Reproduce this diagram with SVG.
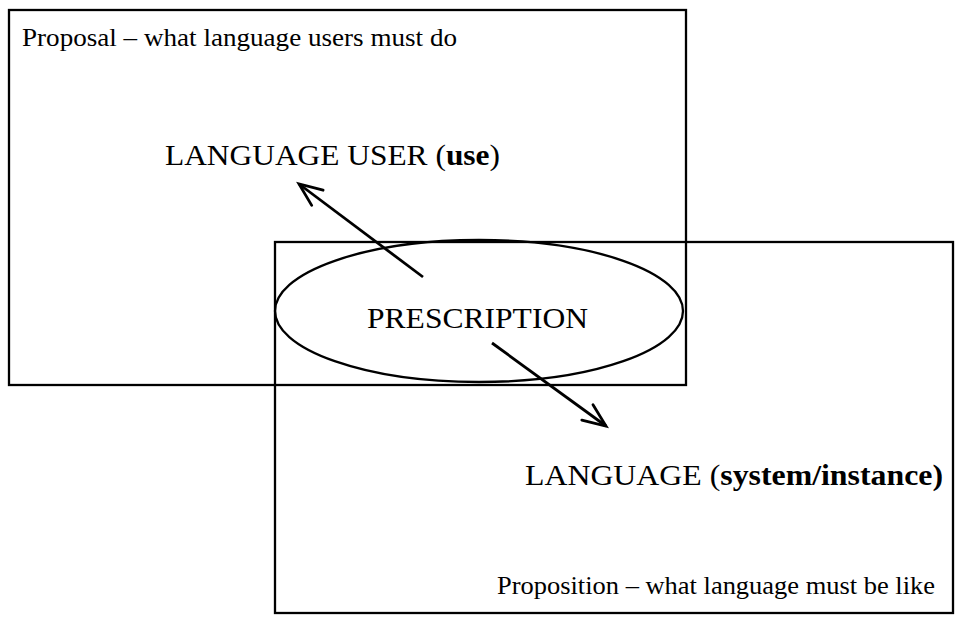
<svg xmlns="http://www.w3.org/2000/svg" width="958" height="621" viewBox="0 0 958 621">
<style>
.box{fill:none;stroke:#000;stroke-width:2.3}
.t{font-family:"Liberation Serif","Times New Roman",serif;fill:#000}
.s{font-size:26px}
.l{font-size:30px}
.b{font-weight:bold}
.arr{stroke:#000;stroke-width:2.8;fill:none;marker-end:url(#ah)}
</style>
<defs>
<marker id="ah" markerWidth="30" markerHeight="30" viewBox="-26 -15 30 30" refX="0" refY="0" orient="auto" markerUnits="userSpaceOnUse">
<path d="M-23,-9.5 L0,0 L-23,9.5" fill="none" stroke="#000" stroke-width="2.8" stroke-linecap="round" stroke-linejoin="miter"/>
</marker>
</defs>
<rect width="958" height="621" fill="#fff"/>
<g id="proposal">
<rect class="box" x="9" y="10" width="677" height="375"/>
<text class="t s" x="22" y="46" textLength="435" lengthAdjust="spacingAndGlyphs">Proposal – what language users must do</text>
</g>
<g id="proposition">
<rect class="box" x="275" y="242" width="678" height="371"/>
<text class="t s" x="497" y="594" textLength="438" lengthAdjust="spacingAndGlyphs">Proposition – what language must be like</text>
</g>
<g id="language-user">
<text class="t l" x="165" y="165" textLength="335" lengthAdjust="spacingAndGlyphs">LANGUAGE USER (<tspan class="b">use</tspan>)</text>
</g>
<g id="language">
<text class="t l" x="525" y="485" textLength="418" lengthAdjust="spacingAndGlyphs">LANGUAGE (<tspan class="b">system/instance)</tspan></text>
</g>
<g id="prescription">
<ellipse cx="479" cy="311" rx="204" ry="71" fill="none" stroke="#000" stroke-width="2.3"/>
<text class="t l" x="367" y="328" textLength="221" lengthAdjust="spacingAndGlyphs">PRESCRIPTION</text>
</g>
<g id="connectors">
<path class="arr" d="M423,277 L299,184"/>
<path class="arr" d="M492,343 L606,426"/>
</g>
</svg>
